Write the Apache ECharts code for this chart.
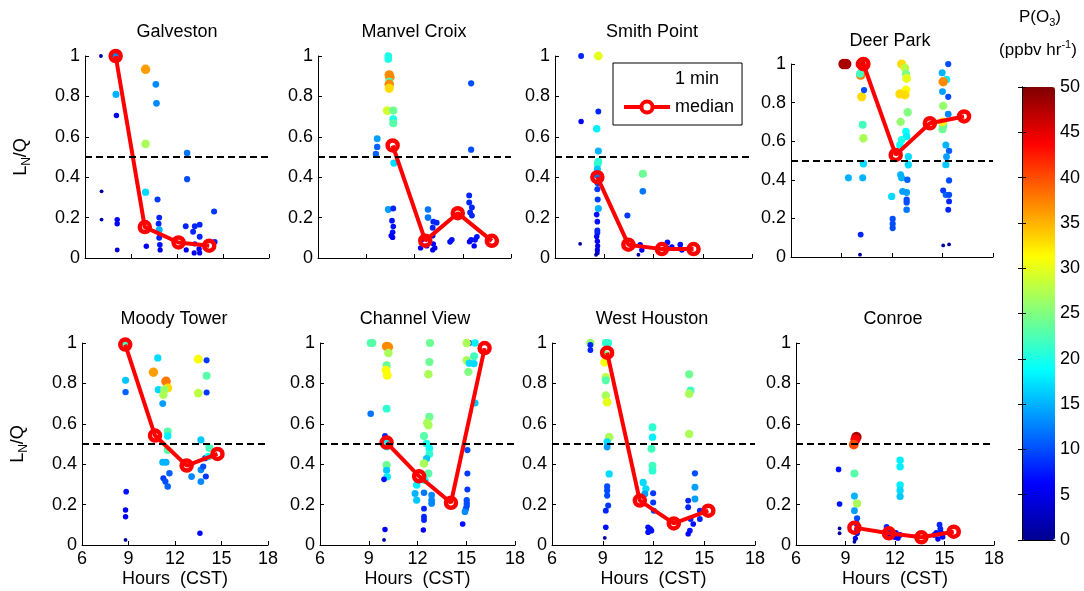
<!DOCTYPE html>
<html><head><meta charset="utf-8">
<script src="https://cdn.jsdelivr.net/npm/echarts@6/dist/echarts.min.js"></script>
<style>html,body{margin:0;padding:0;background:#fff}#c{width:1084px;height:591px}</style>
</head><body><div id="c"></div>
<script>
// ---------------- DATA ----------------
const stationNames = ['Galveston','Manvel Croix','Smith Point','Deer Park','Moody Tower','Channel View','West Houston','Conroe'];
const hourTicks = [6, 9, 12, 15, 18];
const lnqTicks = [0, 0.2, 0.4, 0.6, 0.8, 1];
const po3Ticks = [0, 5, 10, 15, 20, 25, 30, 35, 40, 45, 50];

// 1-min points: [hour CST, LN/Q, P(O3) ppbv/hr]
const galveston = [[7.04,1.0,1],[8.0,1.0,48],[8.0,1.0,13],[8.02,0.81,15],[8.05,0.705,6],[7.08,0.33,1],[7.08,0.19,1],[8.1,0.19,6],[8.1,0.17,6],[8.1,0.04,4],[9.95,0.934,36],[9.95,0.565,27],[9.95,0.326,17],[10.0,0.058,6],[10.62,0.86,13],[10.66,0.766,13],[10.73,0.29,9],[10.84,0.2,8],[10.8,0.17,8],[10.84,0.14,15],[10.84,0.1,8],[10.88,0.065,7],[10.9,0.04,5],[12.66,0.52,12],[12.66,0.39,10],[12.57,0.157,8],[13.05,0.13,8],[13.16,0.157,8],[13.48,0.165,8],[13.48,0.105,8],[13.16,0.07,6],[13.12,0.025,5],[13.48,0.025,5],[13.44,0.045,6],[12.6,0.04,5],[14.42,0.23,9],[14.46,0.08,8]];
const manvelCroix = [[10.37,1.0,20],[10.37,0.985,20],[10.43,0.906,37],[10.47,0.895,37],[10.43,0.873,22],[10.43,0.86,37],[10.43,0.84,33],[10.3,0.73,29],[10.68,0.73,24],[10.68,0.687,20],[10.68,0.667,23],[10.72,0.47,17],[9.68,0.59,14],[9.68,0.55,11],[9.6,0.515,11],[10.37,0.24,14],[10.68,0.245,8],[10.6,0.185,7],[10.68,0.156,7],[10.64,0.127,7],[10.55,0.11,6],[10.64,0.102,6],[12.84,0.24,12],[12.84,0.2,12],[13.17,0.18,8],[13.38,0.175,8],[13.13,0.15,8],[13.13,0.11,7],[13.17,0.07,6],[13.26,0.05,6],[12.45,0.09,6],[12.38,0.05,6],[12.76,0.06,6],[13.13,0.04,5],[14.21,0.08,7],[14.32,0.09,7],[15.52,0.865,10],[15.52,0.536,10],[15.4,0.31,8],[15.4,0.275,8],[15.57,0.25,8],[15.57,0.21,8],[15.46,0.225,8],[15.52,0.09,7],[15.77,0.09,7],[15.71,0.06,6],[15.88,0.105,7],[15.42,0.08,6]];
const smithPoint = [[7.59,1.0,8],[7.59,0.676,6],[7.53,0.07,1],[8.64,1.0,30],[8.64,0.725,8],[8.54,0.64,18],[8.64,0.53,15],[8.64,0.477,21],[8.6,0.466,21],[8.58,0.44,16],[8.58,0.41,12],[8.6,0.37,10],[8.58,0.34,9],[8.6,0.29,9],[8.64,0.245,15],[8.54,0.215,7],[8.58,0.18,7],[8.58,0.137,8],[8.58,0.125,8],[8.54,0.107,6],[8.58,0.083,6],[8.6,0.06,5],[8.58,0.04,5],[8.58,0.025,4],[8.5,0.016,1],[10.41,0.21,9],[11.35,0.417,24],[11.35,0.33,12],[11.19,0.066,6],[11.29,0.04,6],[11.08,0.016,1],[12.85,0.077,7],[12.81,0.05,6],[13.63,0.066,7],[13.73,0.04,6],[13.12,0.055,6]];
const deerPark = [[9.12,1.0,48],[9.28,1.0,48],[10.14,1.0,45],[10.14,0.943,38],[10.2,0.83,33],[10.34,0.865,10],[10.26,0.685,22],[10.3,0.615,27],[10.3,0.483,17],[10.26,0.41,15],[9.41,0.41,15],[10.14,0.116,8],[10.1,0.012,1],[10.1,0.95,22],[12.57,1.0,33],[12.77,0.98,28],[12.83,0.95,25],[12.87,0.925,30],[12.83,0.865,31],[12.77,0.84,33],[12.47,0.845,33],[12.93,0.75,25],[12.51,0.70,26],[12.83,0.65,19],[12.87,0.624,18],[12.57,0.607,20],[12.47,0.58,19],[12.97,0.52,17],[12.97,0.478,17],[12.51,0.426,15],[12.57,0.41,15],[12.91,0.40,11],[12.63,0.34,14],[12.87,0.334,14],[12.87,0.297,10],[12.87,0.283,10],[12.87,0.245,12],[11.98,0.314,17],[12.04,0.197,10],[12.04,0.172,10],[12.04,0.15,10],[15.34,1.0,10],[14.98,0.955,15],[15.24,0.92,18],[15.0,0.857,14],[15.34,0.83,10],[15.04,0.908,37],[15.04,0.783,26],[15.34,0.74,13],[15.04,0.68,23],[15.0,0.662,24],[15.0,0.70,32],[15.2,0.58,15],[15.39,0.55,11],[15.24,0.52,14],[15.2,0.478,16],[15.39,0.397,10],[15.04,0.345,9],[15.2,0.322,11],[15.39,0.322,10],[15.39,0.288,8],[15.34,0.245,8],[15.04,0.06,1],[15.39,0.065,1]];
const moodyTower = [[8.79,1.0,22],[8.81,0.815,16],[8.81,0.757,11],[8.85,0.264,7],[8.81,0.173,6],[8.81,0.14,6],[8.81,0.025,1],[10.61,0.855,36],[10.89,0.926,17],[10.93,0.769,17],[11.21,0.7,14],[11.42,0.81,38],[11.53,0.777,33],[11.31,0.769,26],[11.25,0.744,27],[11.53,0.562,23],[11.53,0.54,18],[11.53,0.47,23],[11.21,0.41,15],[11.42,0.41,15],[11.64,0.355,11],[11.25,0.33,9],[11.38,0.314,10],[11.53,0.29,11],[13.5,0.92,31],[14.04,0.914,9],[13.5,0.752,28],[14.04,0.755,9],[14.04,0.838,23],[13.67,0.52,16],[13.07,0.339,13],[13.67,0.372,13],[13.67,0.314,13],[13.82,0.388,10],[13.99,0.339,9],[13.95,0.43,10],[14.21,0.48,22],[14.16,0.438,19],[13.61,0.058,6]];
const channelView = [[9.12,1.0,23],[9.22,1.0,23],[9.12,0.65,12],[10.1,0.983,37],[10.21,0.98,37],[10.21,0.95,27],[10.1,0.89,24],[10.06,0.865,31],[10.14,0.84,31],[10.1,0.675,21],[10.0,0.54,8],[10.06,0.52,18],[10.1,0.486,19],[10.1,0.395,24],[10.1,0.37,16],[10.14,0.338,18],[9.94,0.325,7],[10.0,0.077,6],[9.94,0.025,1],[12.77,1.0,24],[12.73,0.906,24],[12.67,0.845,27],[12.73,0.634,24],[12.6,0.605,27],[12.67,0.593,27],[12.4,0.539,23],[12.56,0.502,20],[12.73,0.478,19],[12.73,0.45,21],[12.56,0.428,16],[12.4,0.404,27],[12.67,0.354,23],[12.46,0.32,18],[11.95,0.297,18],[11.85,0.255,15],[12.4,0.259,12],[11.95,0.222,16],[12.87,0.247,13],[12.87,0.222,13],[12.87,0.206,13],[12.4,0.18,8],[12.4,0.14,8],[12.4,0.124,8],[12.36,0.074,6],[15.19,1.0,8],[15.03,1.0,27],[15.54,1.0,18],[15.03,0.914,27],[15.19,0.9,17],[15.48,0.934,22],[15.48,0.898,17],[15.13,0.857,25],[15.54,0.703,16],[15.07,0.47,10],[15.07,0.354,9],[15.07,0.275,9],[15.03,0.222,10],[15.03,0.206,10],[14.98,0.18,11],[14.92,0.165,13],[15.03,0.193,10],[14.78,0.104,7]];
const westHouston = [[8.27,1.0,26],[8.27,0.99,8],[8.27,0.965,8],[9.18,1.0,21],[9.32,1.0,21],[9.22,0.94,25],[9.12,0.905,31],[9.18,0.83,28],[9.18,0.815,23],[9.18,0.74,27],[9.26,0.707,30],[9.38,0.534,27],[9.26,0.51,17],[9.26,0.485,14],[9.38,0.352,17],[9.26,0.29,10],[9.26,0.27,10],[9.26,0.245,10],[9.32,0.195,9],[9.18,0.17,8],[9.18,0.088,7],[9.12,0.035,1],[11.94,0.583,21],[11.94,0.534,18],[11.88,0.476,22],[11.94,0.393,22],[11.94,0.368,21],[11.39,0.31,17],[11.55,0.278,17],[11.49,0.253,14],[11.98,0.256,9],[11.98,0.21,9],[12.02,0.17,9],[11.68,0.088,7],[11.88,0.071,7],[11.68,0.063,7],[11.8,0.08,7],[14.11,0.845,24],[14.19,0.765,22],[14.11,0.749,27],[14.11,0.55,27],[14.45,0.355,10],[14.45,0.286,14],[14.45,0.228,14],[14.05,0.22,8],[14.05,0.187,8],[14.19,0.129,8],[14.35,0.104,7],[14.15,0.071,7],[14.05,0.055,6],[14.74,0.17,8],[14.74,0.129,8]];
const conroe = [[8.58,0.374,7],[8.64,0.203,7],[8.64,0.082,1],[8.64,0.058,1],[9.66,0.535,48],[9.6,0.522,44],[9.5,0.497,40],[9.54,0.354,23],[9.7,0.206,27],[9.54,0.242,15],[9.54,0.17,14],[9.7,0.132,10],[9.66,0.107,9],[9.7,0.074,8],[9.7,0.058,7],[9.6,0.033,5],[9.54,0.016,1],[11.49,0.09,8],[11.55,0.07,8],[11.63,0.058,7],[11.7,0.04,6],[11.98,0.038,6],[12.05,0.06,7],[12.31,0.42,18],[12.31,0.387,18],[12.31,0.297,18],[12.31,0.27,17],[12.31,0.24,16],[12.31,0.05,7],[12.18,0.034,6],[14.38,0.05,7],[14.5,0.06,7],[14.7,0.1,8],[14.75,0.08,8],[14.8,0.06,7],[14.89,0.04,6],[14.6,0.03,6],[14.85,0.05,7]];

// medians: [hour CST, LN/Q]
const galvestonMedian   = [[8.0,1.0],[9.9,0.153],[12.1,0.077],[14.1,0.061]];
const manvelCroixMedian = [[10.64,0.557],[12.67,0.086],[14.69,0.222],[16.81,0.085]];
const smithPointMedian  = [[8.58,0.40],[10.47,0.066],[12.51,0.044],[14.44,0.044]];
const deerParkMedian    = [[10.3,1.0],[12.22,0.529],[14.25,0.693],[16.28,0.728]];
const moodyTowerMedian  = [[8.79,0.992],[10.71,0.542],[12.75,0.393],[14.74,0.451]];
const channelViewMedian = [[10.1,0.507],[12.1,0.34],[14.06,0.209],[16.13,0.975]];
const westHoustonMedian = [[9.26,0.952],[11.19,0.22],[13.2,0.107],[15.24,0.17]];
const conroeMedian      = [[9.54,0.086],[11.63,0.058],[13.6,0.038],[15.56,0.066]];

const threshold = 0.5;

// ---------------- LAYOUT / STYLE ----------------
const pointSets = [galveston, manvelCroix, smithPoint, deerPark, moodyTower, channelView, westHouston, conroe];
const medianSets = [galvestonMedian, manvelCroixMedian, smithPointMedian, deerParkMedian, moodyTowerMedian, channelViewMedian, westHoustonMedian, conroeMedian];
const FONT = 'Liberation Sans, Arial, Helvetica, sans-serif';
const grids = [
  [85, 56, 184, 202], [318, 56, 193, 202], [555, 56, 197, 202], [791, 64, 202, 193],
  [82, 343, 186, 202], [320, 343, 195, 202], [552, 343, 203, 202], [796, 343, 198, 202]
];
const titlePos = [[177,32],[414,32],[652,32],[890,41],[174,319],[415,319],[652,319],[893,319]];
const jet = ['#000090','#0000ff','#0080ff','#00ffff','#80ff80','#ffff00','#ff8000','#ff0000','#800000'];
const black = '#000';

const option = {
  animation: false,
  backgroundColor: '#fff',
  grid: grids.map(g => ({left: g[0], top: g[1], width: g[2], height: g[3]}))
        .concat([{left: 1022, top: 87, width: 33, height: 453}]),
  xAxis: [], yAxis: [], series: [],
  graphic: [],
  legend: {
    data: [
      {name: '1 min', icon: 'circle', itemStyle: {opacity: 0}},
      {name: 'median', itemStyle: {color: '#fff', borderColor: '#ff0000', borderWidth: 4}, lineStyle: {color: '#ff0000', width: 4}}
    ],
    orient: 'vertical', left: 613, top: 63, padding: [7, 8, 9, 9],
    itemWidth: 46, itemHeight: 14, itemGap: 10,
    borderColor: black, borderWidth: 1, backgroundColor: '#fff',
    selectedMode: false, z: 20,
    textStyle: {fontSize: 18, color: black, fontFamily: FONT}
  },
  visualMap: [{
    type: 'continuous', min: 0, max: 50, dimension: 2,
    seriesIndex: pointSets.map((_, i) => 2 * i),
    inRange: {color: jet}, calculable: false, hoverLink: false,
    orient: 'vertical', left: 1022, top: 87, itemWidth: 33, itemHeight: 453, padding: 0,
    text: null
  }]
};

for (let i = 0; i < 8; i++) {
  const bottom = i >= 4;
  option.xAxis.push({
    type: 'value', gridIndex: i, min: hourTicks[0], max: hourTicks[hourTicks.length-1], interval: 3,
    axisLine: {show: true, onZero: false, lineStyle: {color: black, width: 1}},
    axisTick: {show: true, inside: true, length: 4, lineStyle: {color: black}},
    axisLabel: {show: bottom, color: black, fontSize: 18, fontFamily: FONT, margin: 5},
    splitLine: {show: false},
    name: bottom ? 'Hours  (CST)' : '', nameLocation: 'middle', nameGap: 25,
    nameTextStyle: {fontSize: 18, color: black, fontFamily: FONT}
  });
  option.yAxis.push({
    type: 'value', gridIndex: i, min: lnqTicks[0], max: lnqTicks[lnqTicks.length-1], interval: 0.2,
    axisLine: {show: true, onZero: false, lineStyle: {color: black, width: 1}},
    axisTick: {show: true, inside: true, length: 4, lineStyle: {color: black}},
    axisLabel: {color: black, fontSize: 18, fontFamily: FONT, margin: 5,
      formatter: v => String(Math.round(v * 10) / 10)},
    splitLine: {show: false},
    name: (i === 0 || i === 4) ? '{a|L}{b|N}{a|/Q}' : '',
    nameLocation: 'middle', nameGap: 52, nameRotate: 90,
    nameTextStyle: {rich: {
      a: {fontSize: 18, fontFamily: FONT, color: black, lineHeight: 24},
      b: {fontSize: 12, fontFamily: FONT, color: black, lineHeight: 12, verticalAlign: 'bottom'}
    }}
  });
  option.series.push({
    type: 'scatter', name: '1 min', xAxisIndex: i, yAxisIndex: i,
    data: pointSets[i],
    symbolSize: d => 2.7 + 1.12 * Math.sqrt(d[2]),
    itemStyle: {opacity: 1},
    emphasis: {disabled: true}, silent: true, z: 2
  });
  option.series.push({
    type: 'line', name: 'median', xAxisIndex: i, yAxisIndex: i,
    data: medianSets[i],
    symbol: 'circle', symbolSize: 10, showAllSymbol: true,
    lineStyle: {color: '#ff0000', width: 4},
    itemStyle: {color: 'rgba(255,255,255,0)', borderColor: '#ff0000', borderWidth: 4.5},
    emphasis: {disabled: true}, silent: true, z: 3,
    markLine: {
      silent: true, symbol: 'none', animation: false,
      label: {show: false},
      lineStyle: {color: black, type: [7, 4], width: 2},
      emphasis: {disabled: true},
      data: [{yAxis: threshold}]
    }
  });
  option.graphic.push({
    type: 'text', x: titlePos[i][0], y: titlePos[i][1],
    style: {text: stationNames[i], font: '18px ' + FONT, fill: black, align: 'center', verticalAlign: 'middle'}
  });
}

// colorbar axes
const cbAxisBase = {
  axisLine: {show: true, lineStyle: {color: black, width: 1}},
  splitLine: {show: false}, z: 10
};
option.xAxis.push(Object.assign({type: 'value', gridIndex: 8, min: 0, max: 1, position: 'bottom',
  axisTick: {show: false}, axisLabel: {show: false}}, cbAxisBase));
option.xAxis.push(Object.assign({type: 'value', gridIndex: 8, min: 0, max: 1, position: 'top',
  axisTick: {show: false}, axisLabel: {show: false}}, cbAxisBase));
option.yAxis.push(Object.assign({type: 'value', gridIndex: 8, min: po3Ticks[0], max: po3Ticks[po3Ticks.length-1], interval: 5, position: 'left',
  axisTick: {show: true, inside: true, length: 4, lineStyle: {color: black}}, axisLabel: {show: false}}, cbAxisBase));
option.yAxis.push(Object.assign({type: 'value', gridIndex: 8, min: po3Ticks[0], max: po3Ticks[po3Ticks.length-1], interval: 5, position: 'right',
  axisTick: {show: true, inside: true, length: 4, lineStyle: {color: black}},
  axisLabel: {show: true, color: black, fontSize: 18, fontFamily: FONT, margin: 5}}, cbAxisBase));

option.graphic.push({
  type: 'text', x: 1040, y: 17,
  style: {text: '{a|P(O}{b|3}{a|)}', align: 'center', verticalAlign: 'middle',
    rich: {a: {fontSize: 17, fontFamily: FONT, fill: black, lineHeight: 22},
           b: {fontSize: 11, fontFamily: FONT, fill: black, lineHeight: 11, verticalAlign: 'bottom'}}}
});
option.graphic.push({
  type: 'text', x: 1038, y: 50,
  style: {text: '{a|(ppbv hr}{b|-1}{a|)}', align: 'center', verticalAlign: 'middle',
    rich: {a: {fontSize: 17, fontFamily: FONT, fill: black, lineHeight: 22},
           b: {fontSize: 11, fontFamily: FONT, fill: black, lineHeight: 11, verticalAlign: 'top'}}}
});

const chart = echarts.init(document.getElementById('c'), null, {renderer: 'canvas'});
chart.setOption(option);
</script>
</body></html>
